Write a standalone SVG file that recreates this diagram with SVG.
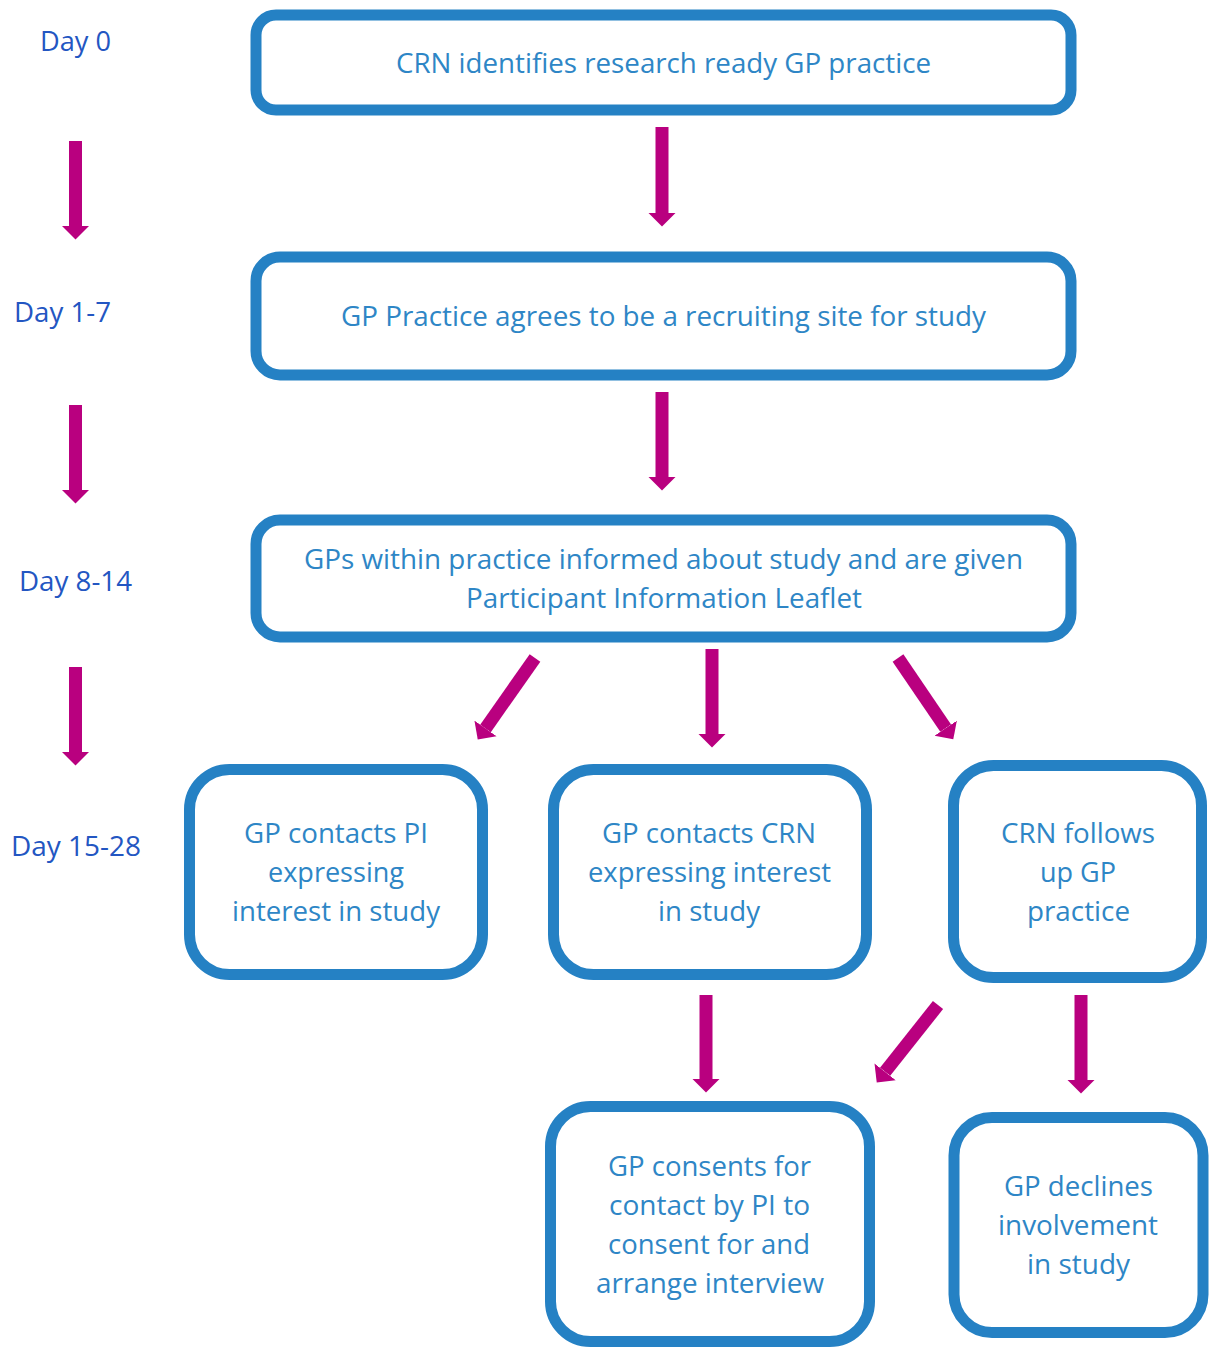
<svg xmlns="http://www.w3.org/2000/svg" width="1215" height="1347" viewBox="0 0 1215 1347">
<style>
.box{fill:#fff;stroke:#2581C4;stroke-width:11}
.t{font-family:"Open Sans","Noto Sans",sans-serif;font-size:28px;fill:#2E86C6;text-anchor:middle}
.d{font-family:"Open Sans","Noto Sans",sans-serif;font-size:28px;fill:#2356C2;text-anchor:middle}
.a{stroke:#B9007F;stroke-width:13;fill:none;marker-end:url(#ah)}
</style>
<defs>
<marker id="ah" markerUnits="userSpaceOnUse" markerWidth="14" markerHeight="28" refX="0" refY="13.5" orient="auto" viewBox="0 0 14 27">
<path d="M0,0 L13.5,13.5 L0,27 Z" fill="#B9007F"/>
</marker>
</defs>
<g id="days">
<text class="d" x="75.5" y="51" textLength="71" lengthAdjust="spacingAndGlyphs">Day 0</text>
<text class="d" x="62.5" y="322" textLength="97" lengthAdjust="spacingAndGlyphs">Day 1-7</text>
<text class="d" x="75.5" y="591" textLength="113" lengthAdjust="spacingAndGlyphs">Day 8-14</text>
<text class="d" x="76" y="856" textLength="130" lengthAdjust="spacingAndGlyphs">Day 15-28</text>
</g>
<g id="n1">
<rect class="box" x="256" y="15" width="815" height="95" rx="20"/>
<text class="t" x="663.5" y="73" textLength="535" lengthAdjust="spacingAndGlyphs">CRN identifies research ready GP practice</text>
</g>
<g id="n2">
<rect class="box" x="256" y="257" width="815" height="118" rx="24"/>
<text class="t" x="663.5" y="326" textLength="645" lengthAdjust="spacingAndGlyphs">GP Practice agrees to be a recruiting site for study</text>
</g>
<g id="n3">
<rect class="box" x="256" y="520" width="815" height="117" rx="24"/>
<text class="t" x="663.5" y="569" textLength="719" lengthAdjust="spacingAndGlyphs">GPs within practice informed about study and are given</text>
<text class="t" x="664" y="608" textLength="396" lengthAdjust="spacingAndGlyphs">Participant Information Leaflet</text>
</g>
<g id="n4">
<rect class="box" x="189.5" y="769.5" width="293" height="205" rx="40"/>
<text class="t" x="336" y="843" textLength="184" lengthAdjust="spacingAndGlyphs">GP contacts PI</text>
<text class="t" x="336" y="882" textLength="136" lengthAdjust="spacingAndGlyphs">expressing</text>
<text class="t" x="336" y="921" textLength="208" lengthAdjust="spacingAndGlyphs">interest in study</text>
</g>
<g id="n5">
<rect class="box" x="553.5" y="769.5" width="313" height="205" rx="40"/>
<text class="t" x="709" y="843" textLength="214" lengthAdjust="spacingAndGlyphs">GP contacts CRN</text>
<text class="t" x="709.5" y="882" textLength="243" lengthAdjust="spacingAndGlyphs">expressing interest</text>
<text class="t" x="709" y="921" textLength="102" lengthAdjust="spacingAndGlyphs">in study</text>
</g>
<g id="n6">
<rect class="box" x="953.5" y="765.5" width="248" height="212" rx="40"/>
<text class="t" x="1078" y="843" textLength="154" lengthAdjust="spacingAndGlyphs">CRN follows</text>
<text class="t" x="1078" y="882" textLength="76" lengthAdjust="spacingAndGlyphs">up GP</text>
<text class="t" x="1078.5" y="921" textLength="103" lengthAdjust="spacingAndGlyphs">practice</text>
</g>
<g id="n7">
<rect class="box" x="550.5" y="1106.5" width="319" height="235" rx="40"/>
<text class="t" x="709.5" y="1176" textLength="203" lengthAdjust="spacingAndGlyphs">GP consents for</text>
<text class="t" x="709.5" y="1215" textLength="201" lengthAdjust="spacingAndGlyphs">contact by PI to</text>
<text class="t" x="709" y="1254" textLength="202" lengthAdjust="spacingAndGlyphs">consent for and</text>
<text class="t" x="710" y="1293" textLength="228" lengthAdjust="spacingAndGlyphs">arrange interview</text>
</g>
<g id="n8">
<rect class="box" x="954" y="1117.5" width="249" height="215" rx="38"/>
<text class="t" x="1078.5" y="1196" textLength="149" lengthAdjust="spacingAndGlyphs">GP declines</text>
<text class="t" x="1078" y="1235" textLength="160" lengthAdjust="spacingAndGlyphs">involvement</text>
<text class="t" x="1078.5" y="1274" textLength="103" lengthAdjust="spacingAndGlyphs">in study</text>
</g>
<g id="connectors">
<line class="a" x1="75.5" y1="141" x2="75.5" y2="226"/>
<line class="a" x1="75.5" y1="405" x2="75.5" y2="490"/>
<line class="a" x1="75.5" y1="667" x2="75.5" y2="752"/>
<line class="a" x1="662" y1="127" x2="662" y2="213"/>
<line class="a" x1="662" y1="392" x2="662" y2="477"/>
<line class="a" x1="535" y1="658" x2="485.5" y2="728.4"/>
<line class="a" x1="712" y1="649" x2="712" y2="734"/>
<line class="a" x1="898" y1="658" x2="945.7" y2="728.2"/>
<line class="a" x1="706" y1="995" x2="706" y2="1079"/>
<line class="a" x1="938" y1="1005" x2="885.1" y2="1071.8"/>
<line class="a" x1="1081" y1="995" x2="1081" y2="1080"/>
</g>
</svg>
